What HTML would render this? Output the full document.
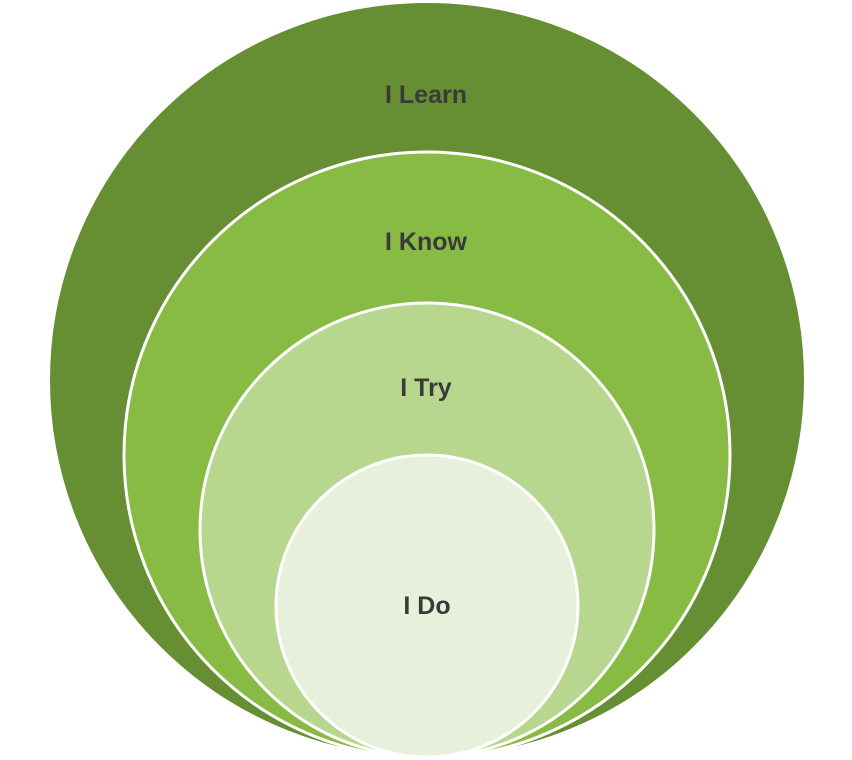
<!DOCTYPE html>
<html><head><meta charset="utf-8"><style>html,body{margin:0;padding:0;background:#fff;}svg{display:block}</style></head>
<body>
<svg width="852" height="760" viewBox="0 0 852 760" xmlns="http://www.w3.org/2000/svg">
<circle cx="427" cy="380" r="378" fill="#668e33" stroke="#fff" stroke-width="2"/>
<circle cx="427" cy="455" r="303" fill="#88bb44" stroke="#fff" stroke-width="3"/>
<circle cx="427" cy="530" r="227" fill="#b7d78f" stroke="#fff" stroke-width="3"/>
<circle cx="427" cy="606" r="151" fill="#e6f0da" stroke="#fff" stroke-width="3"/>
<g font-family="Liberation Sans, sans-serif" font-weight="bold" font-size="25" text-anchor="middle" fill="#3a3a3a">
<text x="426" y="103">I Learn</text>
<text x="426" y="250">I Know</text>
<text x="426" y="396">I Try</text>
<text x="427" y="614">I Do</text>
</g>
</svg>
</body></html>
